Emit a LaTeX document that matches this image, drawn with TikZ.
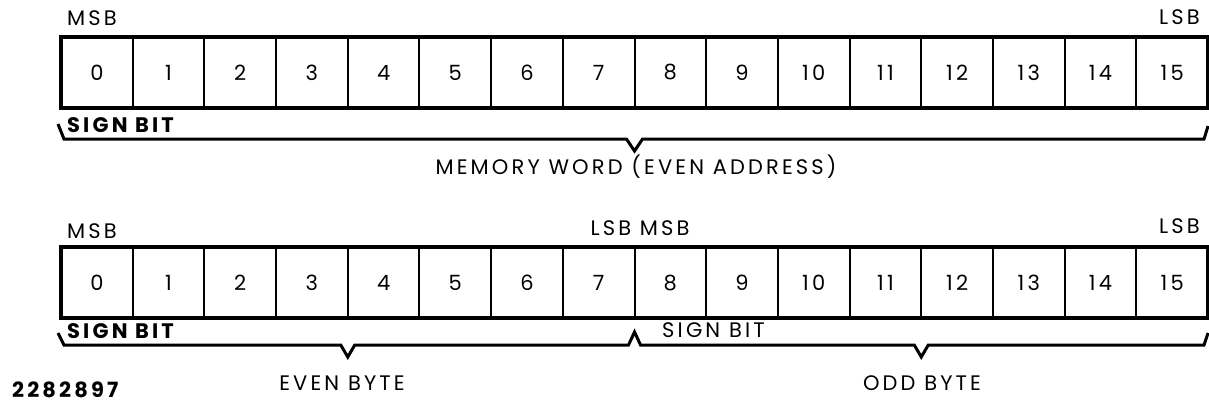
\documentclass[tikz,border=0pt]{standalone}
\usepackage{fontspec}
\setmainfont{Poppins}
\newfontfamily\spaced{Poppins}[LetterSpace=15]
\usetikzlibrary{calc}
\tikzset{
  bitcell/.style={draw,line width=2pt,outer sep=0pt,inner sep=0pt,
    minimum width=71.69pt,minimum height=71pt,font=\spaced\fontsize{21}{21}\selectfont},
  frame/.style={draw,line width=3.4pt},
  brace/.style={line width=3pt,line join=miter},
  lbl/.style={inner sep=0pt,anchor=base,font=\spaced\fontsize{21}{21}\selectfont},
  boldlbl/.style={lbl,font=\spaced\bfseries\fontsize{21}{21}\selectfont}
}

\begin{document}
\begin{tikzpicture}[x=1pt,y=-1pt]
\useasboundingbox (0,0) rectangle (1209,404);
% one cell per bit, word above and bytes below
\foreach \i in {0,...,15}{
  \node[bitcell] (w\i) at ({61+71.69*(\i+0.5)},72.5) {\i};
  \node[bitcell] (b\i) at ({61+71.69*(\i+0.5)},282.5) {\i};
}
\draw[frame] (w0.north west) rectangle (w15.south east);
\draw[frame] (b0.north west) rectangle (b15.south east);
% braces
\draw[brace] ($(w0.south west)+(-3,16)$) -- ++(6,15)
  -- ($(w7.south east)+(-8,31)$) -- ++(8,12) -- ++(8,-12)
  -- ($(w15.south east)+(-4,31)$) -- ++(4,-13);
\draw[brace] ($(b0.south west)+(-3,15)$) -- ++(6,12)
  -- ($(b3.south east)+(-7,27)$) -- ++(7,12) -- ++(7,-12)
  -- ($(b7.south east)+(-6,27)$) -- ++(6,-13) -- ++(6,13)
  -- ($(b11.south east)+(-7,27)$) -- ++(7,12) -- ++(7,-12)
  -- ($(b15.south east)+(-4,27)$) -- ++(4,-12);
% labels
\node[lbl,anchor=base west] (wmsb) at (67,26) {MSB};
\node[lbl,anchor=base east] (wlsb) at (1200,25) {LSB};
\node[boldlbl,anchor=base west] (wsign) at (67,132) {SIGN BIT};
\node[lbl] (wcap) at (636,174) {MEMORY WORD (EVEN ADDRESS)};
\node[lbl,anchor=base west] (bmsb) at (67,238) {MSB};
\node[lbl] (bmid) at (640,235) {LSB MSB};
\node[lbl,anchor=base east] (blsb) at (1200,233) {LSB};
\node[boldlbl,anchor=base west] (bsign0) at (67,338) {SIGN BIT};
\node[lbl,anchor=base west] (bsign8) at (662,337) {SIGN BIT};
\node[lbl] (beven) at (342,390) {EVEN BYTE};
\node[lbl] (bodd) at (922,390) {ODD BYTE};
\node[boldlbl,anchor=base west] (figno) at (12,397) {2282897};
\end{tikzpicture}
\end{document}
